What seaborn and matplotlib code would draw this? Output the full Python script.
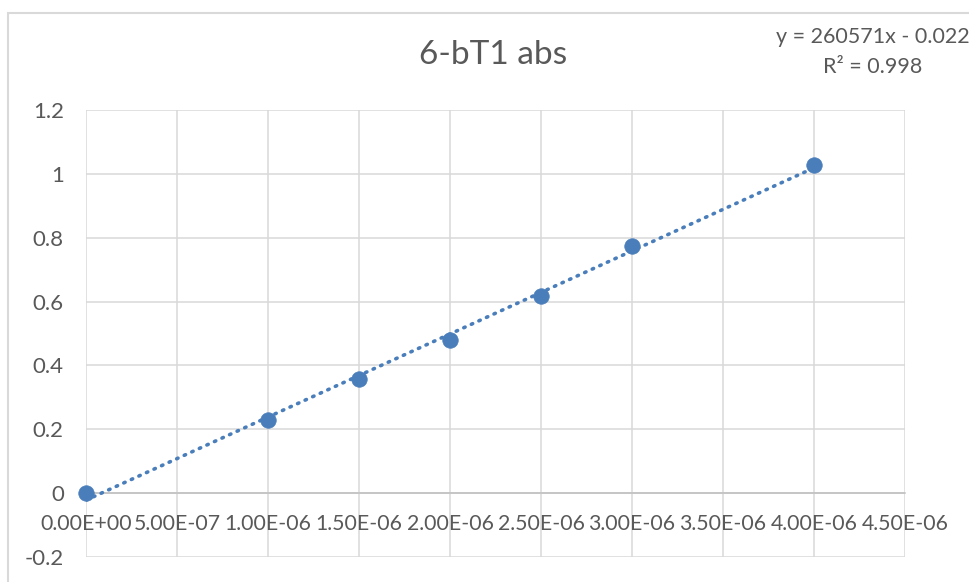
import matplotlib
matplotlib.use("Agg")
import matplotlib.pyplot as plt
from matplotlib.patches import Rectangle
from matplotlib.ticker import FuncFormatter, MultipleLocator
import numpy as np
import pandas as pd
import seaborn as sns

# concentration (M) vs absorbance
conc = [0.0, 1.0e-6, 1.5e-6, 2.0e-6, 2.5e-6, 3.0e-6, 4.0e-6]
absorb = [0.0, 0.229, 0.359, 0.479, 0.619, 0.775, 1.028]

title = "6-bT1 abs"
eq_text = "y = 260571x - 0.022"
r2_text = "R² = 0.998"

blue = "#4A7EBB"
grey_txt = "#595959"
grid_col = "#D9D9D9"

sns.set_theme(style="whitegrid")
plt.rcParams["font.family"] = ["Lato", "DejaVu Sans"]
plt.rcParams["axes.unicode_minus"] = False

df = pd.DataFrame({"conc": conc, "abs": absorb})

# linear trendline
slope, icpt = np.polyfit(df["conc"], df["abs"], 1)
trend = pd.DataFrame({"conc": [0.0, max(conc)]})
trend["abs"] = slope * trend["conc"] + icpt

fig = plt.figure(figsize=(9.7, 5.82), dpi=100)
ax = fig.add_axes([86 / 970, 25 / 582, 819 / 970, 447 / 582])

sns.lineplot(data=trend, x="conc", y="abs", ax=ax, color=blue, lw=2.6,
             linestyle=(0, (0.4, 1.9)), dash_capstyle="round", zorder=3)
sns.scatterplot(data=df, x="conc", y="abs", ax=ax, color=blue, s=125,
                edgecolor=blue, linewidth=0.5, zorder=4, clip_on=False)

ax.set_xlim(0, 4.5e-6)
ax.set_ylim(-0.2, 1.2)
ax.xaxis.set_major_locator(MultipleLocator(5e-7))
ax.yaxis.set_major_locator(MultipleLocator(0.2))
ax.xaxis.set_major_formatter(FuncFormatter(lambda v, p: f"{v:.2E}"))
ax.yaxis.set_major_formatter(FuncFormatter(lambda v, p: f"{round(v, 1):g}"))

ax.grid(True, color=grid_col, lw=1.1)
for s in ["top", "right", "left"]:
    ax.spines[s].set_visible(False)
ax.spines["bottom"].set_position(("data", 0))
ax.spines["bottom"].set_color("#BFBFBF")
ax.spines["bottom"].set_linewidth(1.1)

ax.tick_params(axis="x", length=0, pad=15, labelsize=15.3, labelcolor=grey_txt)
ax.tick_params(axis="y", length=0, pad=16, labelsize=16, labelcolor=grey_txt)
ax.set_xlabel("")
ax.set_ylabel("")

fig.text(493 / 970, 1 - 55 / 582, title, ha="center", va="center",
         fontsize=24, color=grey_txt)
fig.text(873 / 970, 1 - 37 / 582, eq_text, ha="center", va="center",
         fontsize=15.5, color=grey_txt)
fig.text(873 / 970, 1 - 67 / 582, r2_text, ha="center", va="center",
         fontsize=15.5, color=grey_txt)

# chart area border (only top/left visible in the crop)
fig.patches.append(Rectangle((8.5 / 970, -0.1), 1.2, 1.1 - 12.5 / 582,
                             transform=fig.transFigure, fill=False,
                             edgecolor=grid_col, lw=1.5))

fig.savefig("out.png", dpi=100)
